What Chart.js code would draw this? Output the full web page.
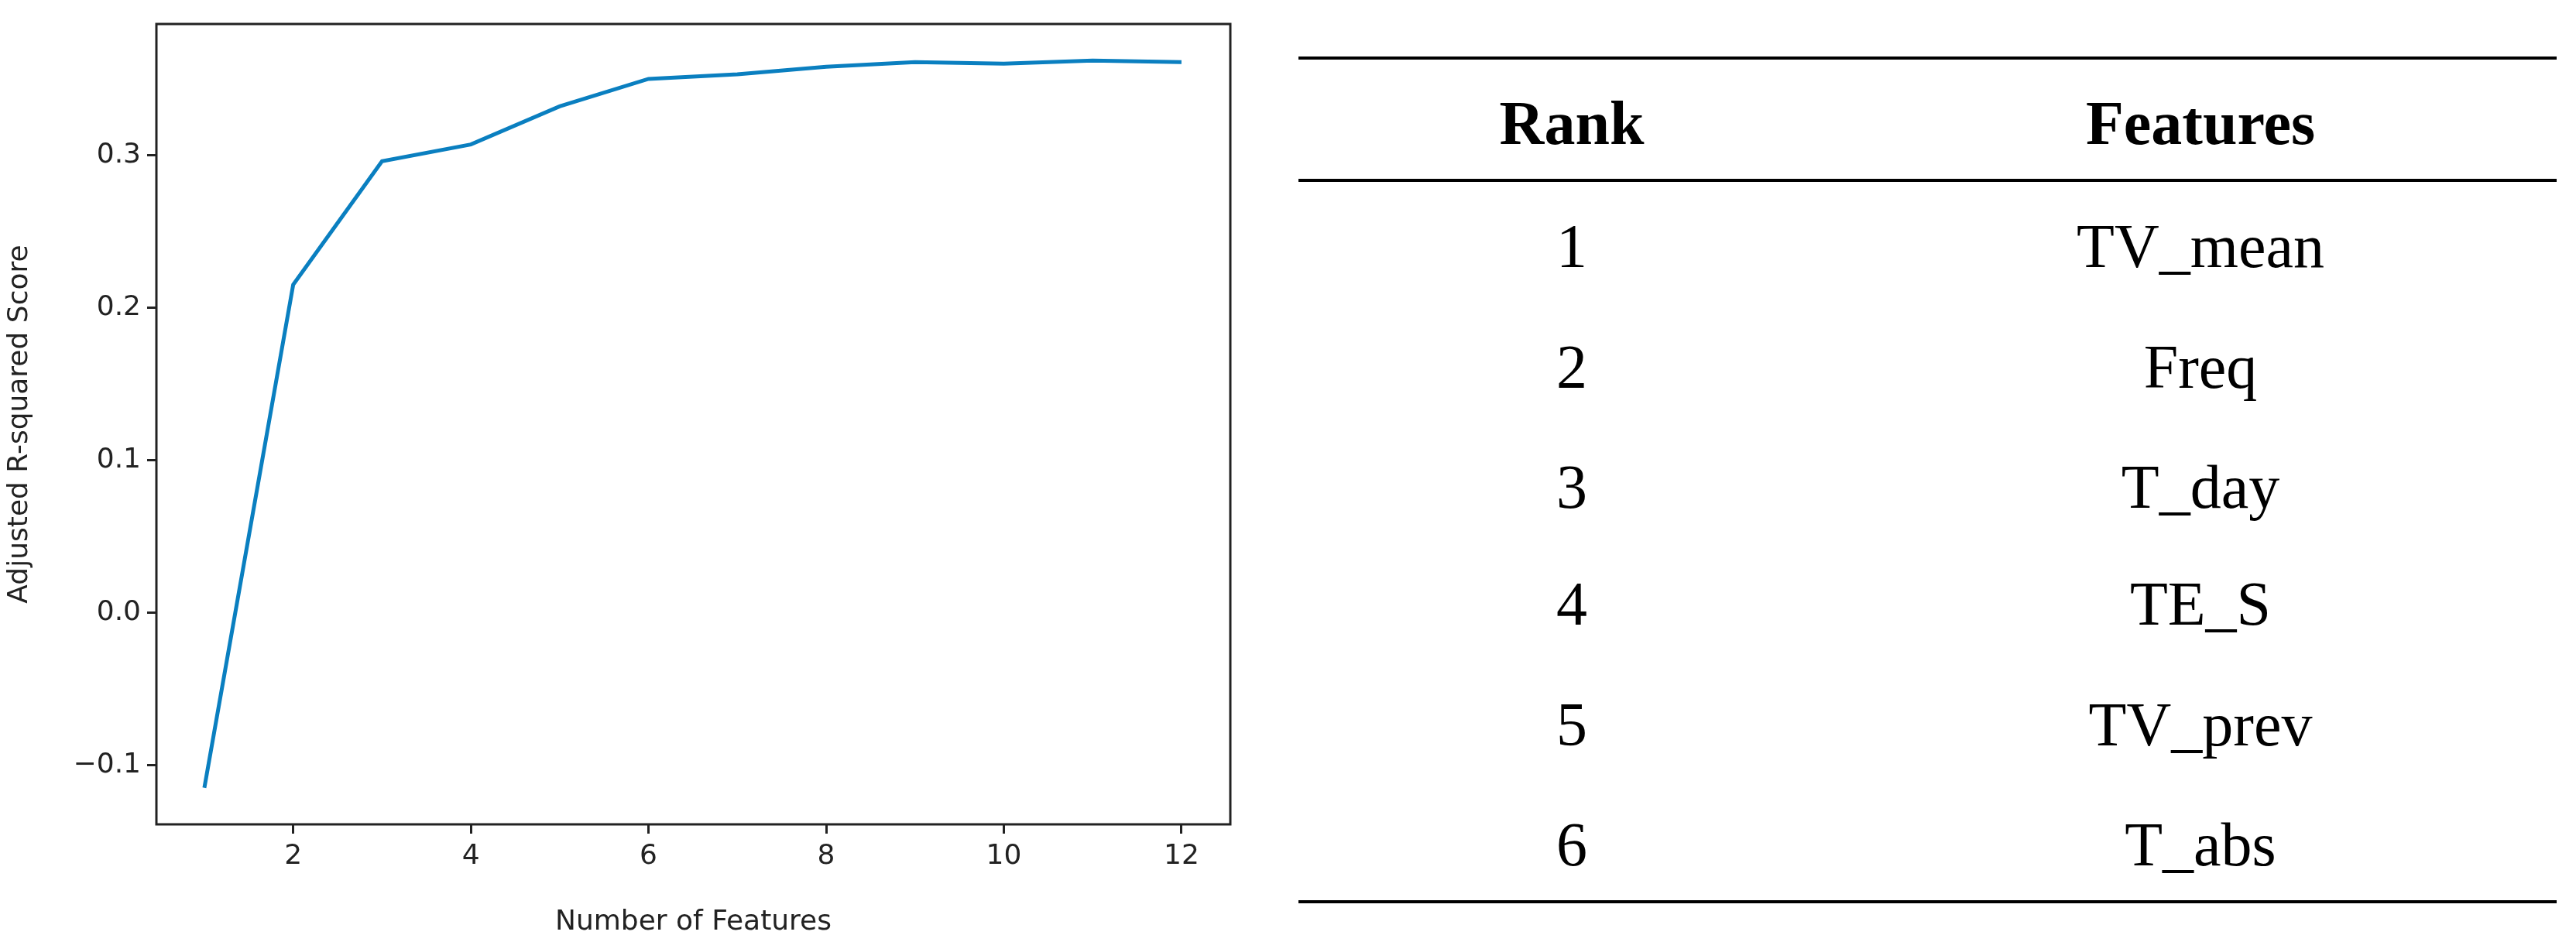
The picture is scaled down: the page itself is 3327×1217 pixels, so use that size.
<!DOCTYPE html>
<html>
<head>
<meta charset="utf-8">
<script src="https://cdn.jsdelivr.net/npm/chart.js@4"></script>
<style>
  body { margin: 0; background: #fff; width: 3327px; height: 1217px; position: relative; overflow: hidden; }
  #chartBox { position: absolute; left: 0; top: 0; width: 1650px; height: 1217px; }
  .rule { position: absolute; left: 1677px; width: 1625px; height: 4px; background: #000; }
  .cell { position: absolute; transform: translate(-50%, -50%); font-family: 'Liberation Serif', serif; font-size: 80px; color: #000; white-space: nowrap; }
  .head { font-weight: bold; }
</style>
</head>
<body>
<div id="chartBox"><canvas id="scoreChart"></canvas></div>
<div id="table"></div>
<script>
const featureCounts = [1, 2, 3, 4, 5, 6, 7, 8, 9, 10, 11, 12];
const scores = [-0.115, 0.215, 0.296, 0.307, 0.332, 0.350, 0.353, 0.358, 0.361, 0.360, 0.362, 0.361];
const xTicks = [2, 4, 6, 8, 10, 12];
const yTicks = [-0.1, 0.0, 0.1, 0.2, 0.3];
const ranks = ['1', '2', '3', '4', '5', '6'];
const featureNames = ['TV_mean', 'Freq', 'T_day', 'TE_S', 'TV_prev', 'T_abs'];

// frame around the plot area, matplotlib style
const framePlugin = {
    id: 'frame',
    afterDraw(chart) {
        const a = chart.chartArea;
        const ctx = chart.ctx;
        ctx.save();
        ctx.strokeStyle = '#222';
        ctx.lineWidth = 3;
        ctx.strokeRect(a.left, a.top, a.right - a.left, a.bottom - a.top);
        ctx.restore();
    }
};

const tickFont = { family: "'DejaVu Sans', sans-serif", size: 36 };

new Chart(document.getElementById('scoreChart'), {
    type: 'line',
    data: {
        datasets: [{
            data: featureCounts.map((x, i) => ({ x: x, y: scores[i] })),
            borderColor: '#0a7fc0',
            borderWidth: 5,
            pointRadius: 0,
            tension: 0
        }]
    },
    options: {
        responsive: true,
        maintainAspectRatio: false,
        animation: false,
        layout: { padding: { top: 31, right: 61, left: 0, bottom: 0 } },
        plugins: { legend: { display: false }, tooltip: { enabled: false } },
        scales: {
            x: {
                type: 'linear', min: 0.46, max: 12.55,
                afterBuildTicks: s => { s.ticks = xTicks.map(v => ({ value: v })); },
                afterFit: s => { s.height = 152; },
                grid: { drawOnChartArea: false, tickLength: 12, color: '#222', lineWidth: 3 },
                border: { display: false },
                ticks: { font: tickFont, color: '#222', padding: 8, maxRotation: 0 },
                title: { display: true, text: 'Number of Features', font: tickFont, color: '#222', padding: { top: 6 } }
            },
            y: {
                type: 'linear', min: -0.139, max: 0.386,
                afterBuildTicks: s => { s.ticks = yTicks.map(v => ({ value: v })); },
                afterFit: s => { s.width = 202; },
                grid: { drawOnChartArea: false, tickLength: 12, color: '#222', lineWidth: 3 },
                border: { display: false },
                ticks: { font: tickFont, color: '#222', padding: 8, callback: v => (v < 0 ? '\u2212' : '') + Math.abs(v).toFixed(1) },
                title: { display: true, text: 'Adjusted R-squared Score', font: tickFont, color: '#222', padding: { bottom: 10 } }
            }
        }
    },
    plugins: [framePlugin]
});

// feature ranking table
function buildTable() {
    const t = document.getElementById('table');
    [75, 233, 1165].forEach(y => {
        const r = document.createElement('div');
        r.className = 'rule';
        r.style.top = (y - 2) + 'px';
        t.appendChild(r);
    });
    const addCell = (text, x, y, bold) => {
        const c = document.createElement('div');
        c.className = 'cell' + (bold ? ' head' : '');
        c.textContent = text;
        c.style.left = x + 'px';
        c.style.top = y + 'px';
        t.appendChild(c);
    };
    addCell('Rank', 2030, 159, true);
    addCell('Features', 2842, 159, true);
    const rowY = [318, 474, 629, 780, 936, 1091];
    ranks.forEach((r, i) => {
        addCell(r, 2030, rowY[i], false);
        addCell(featureNames[i], 2842, rowY[i], false);
    });
}
buildTable();
</script>
</body>
</html>
